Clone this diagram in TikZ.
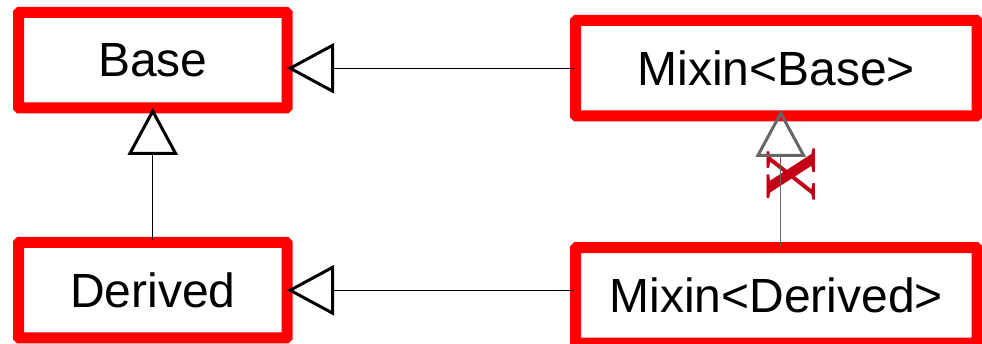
\documentclass[tikz,border=0pt]{standalone}
\usepackage{fontspec}
\setmainfont{Liberation Sans}
\newfontfamily\xfont{Liberation Serif}
\usepackage{xcolor}
\usetikzlibrary{positioning,arrows.meta}
\definecolor{boxred}{RGB}{255,0,0}
\definecolor{xred}{RGB}{195,0,22}
\definecolor{tipgray}{RGB}{102,102,102}

\begin{document}
\begin{tikzpicture}[x=1pt,y=-1pt,
        cls/.style={draw=boxred,line width=11pt,rounded corners=1pt,minimum height=95.5pt,outer sep=2pt,font=\fontsize{48}{58}\selectfont},
        inherit/.style={line width=0.8pt,shorten >=-2pt,-{Triangle[open,length=47pt,width=50pt,line width=3pt]}}]
        \clip (0,0) rectangle (982,344);
        \node[cls,minimum width=268.5pt] (base) at (152.75,60.25) {Base};
        \node[cls,minimum width=268.5pt] (derived) at (152.75,290.25) {Derived};
        \node[cls,minimum width=401.5pt] (mbase) at (776.25,68.25) {Mixin<Base>};
        \node[cls,minimum width=401.5pt] (mderived) at (776.25,295.5) {Mixin<Derived>};
        \node[text=xred,inner sep=0pt,rotate=90,font=\xfont\bfseries\fontsize{74}{80}\selectfont] (nope) at (791,175) {X};
        \path[inherit]
                (mbase.west) edge (mbase.west -| base.east)
                (mderived.west |- derived.east) edge (derived.east)
                (derived.north) edge (base.south)
                ([xshift=4.5pt]mderived.north) edge[draw=tipgray,shorten >=-8pt] ([xshift=4.5pt]mbase.south);
\end{tikzpicture}
\end{document}
